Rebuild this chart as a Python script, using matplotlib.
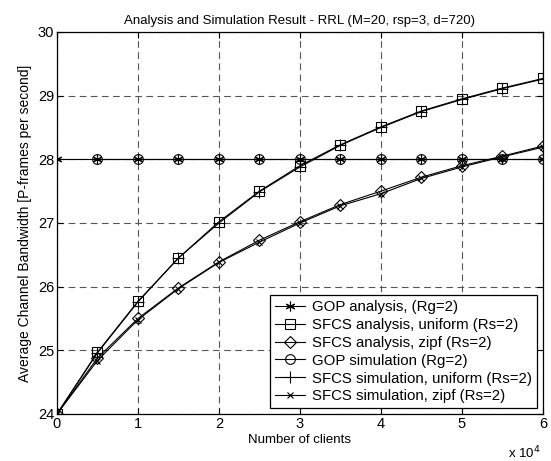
import numpy as np
import matplotlib
matplotlib.use('Agg')
import matplotlib.pyplot as plt
from matplotlib.ticker import FuncFormatter

plt.rcParams['font.family'] = ['Liberation Sans', 'DejaVu Sans']

# Data
clients = [0, 5000, 10000, 15000, 20000, 25000, 30000, 35000, 40000, 45000, 50000, 55000, 60000]
gop_analysis = [28, 28, 28, 28, 28, 28, 28, 28, 28, 28, 28, 28, 28]
sfcs_uniform = [24.0, 24.97, 25.77, 26.45, 27.02, 27.5, 27.9, 28.23, 28.51, 28.76, 28.95, 29.12, 29.27]
sfcs_zipf = [24.0, 24.88, 25.5, 25.98, 26.39, 26.73, 27.02, 27.29, 27.5, 27.72, 27.9, 28.05, 28.21]
gop_sim_clients = clients[1:]
gop_sim = [28, 28, 28, 28, 28, 28, 28, 28, 28, 28, 28, 28]
sfcs_uniform_sim = [24.0, 24.96, 25.76, 26.45, 27.0, 27.49, 27.88, 28.22, 28.5, 28.75, 28.94, 29.11, 29.26]
sfcs_zipf_sim = [24.0, 24.84, 25.48, 25.97, 26.38, 26.7, 27.0, 27.27, 27.46, 27.7, 27.88, 28.04, 28.19]

fig = plt.figure(figsize=(5.51, 4.61), dpi=100)
ax = fig.add_axes([0.1034, 0.102, 0.882, 0.8286])

kw = dict(color='black', linewidth=0.8, markerfacecolor='none', markeredgecolor='black',
          markeredgewidth=0.8)
ax.plot(clients, gop_analysis, marker=(6, 2, 0), markersize=7, label='GOP analysis, (Rg=2)', **kw)
ax.plot(clients, sfcs_uniform, marker='s', markersize=7, label='SFCS analysis, uniform (Rs=2)', **kw)
ax.plot(clients, sfcs_zipf, marker='D', markersize=6, label='SFCS analysis, zipf (Rs=2)', **kw)
ax.plot(gop_sim_clients, gop_sim, marker='o', markersize=7, label='GOP simulation (Rg=2)', **kw)
ax.plot(clients, sfcs_uniform_sim, marker='+', markersize=8, label='SFCS simulation, uniform (Rs=2)', **kw)
ax.plot(clients, sfcs_zipf_sim, marker='x', markersize=4, label='SFCS simulation, zipf (Rs=2)', **kw)

ax.set_xlim(0, 60000)
ax.set_ylim(24, 30)
ax.set_xticks(np.arange(0, 60001, 10000))
ax.set_yticks(np.arange(24, 31, 1))
ax.xaxis.set_major_formatter(FuncFormatter(lambda v, p: '%d' % round(v / 10000)))
ax.tick_params(direction='in', top=True, right=True, labelsize=10.5, length=4, width=0.8, pad=2)
for s in ax.spines.values():
    s.set_linewidth(0.9)

ax.grid(True, color='#555555', linestyle=(0, (6, 4)), linewidth=0.8)
ax.set_axisbelow(True)

ax.set_title('Analysis and Simulation Result - RRL (M=20, rsp=3, d=720)', fontsize=9.5, pad=6)
ax.set_xlabel('Number of clients', fontsize=9.5, labelpad=2)
ax.set_ylabel('Average Channel Bandwidth [P-frames per second]', fontsize=10, labelpad=4)
ax.text(0.995, -0.08, r'x 10$^4$', transform=ax.transAxes, ha='right', va='top', fontsize=9.5)

leg = ax.legend(loc='lower right', fontsize=10.8, frameon=True, fancybox=False, edgecolor='black',
                framealpha=1, borderpad=0.3, labelspacing=0.26, handlelength=2.0,
                handletextpad=0.5, borderaxespad=0.4)
leg.get_frame().set_linewidth(0.9)

fig.savefig('out.png', dpi=100)
